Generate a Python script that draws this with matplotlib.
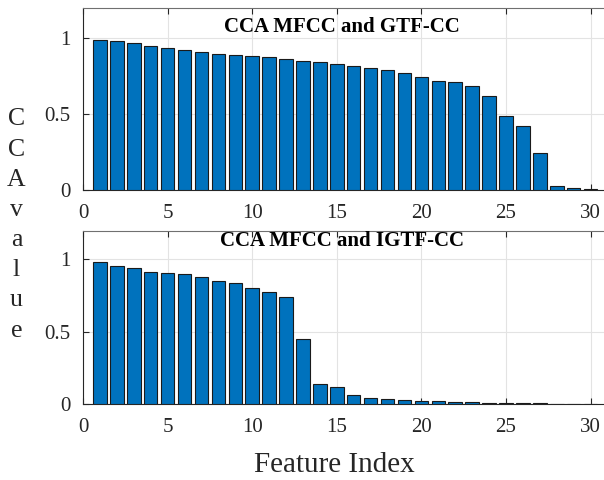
import matplotlib
matplotlib.use("Agg")
import matplotlib.pyplot as plt
import numpy as np

feature_index = list(range(1, 31))
cca_gtf = [0.990, 0.977, 0.964, 0.946, 0.935, 0.920, 0.905, 0.892, 0.887, 0.883,
           0.874, 0.863, 0.850, 0.839, 0.832, 0.819, 0.804, 0.789, 0.771, 0.745,
           0.719, 0.712, 0.686, 0.620, 0.486, 0.421, 0.243, 0.024, 0.013, 0.009]
cca_igtf = [0.984, 0.954, 0.938, 0.915, 0.903, 0.896, 0.876, 0.853, 0.839, 0.802,
            0.774, 0.737, 0.452, 0.141, 0.115, 0.062, 0.041, 0.032, 0.025, 0.023,
            0.021, 0.016, 0.014, 0.009, 0.007, 0.005, 0.004, 0.003, 0.002, 0.001]
titles = ["CCA MFCC and GTF-CC", "CCA MFCC and IGTF-CC"]
xticks = [0, 5, 10, 15, 20, 25, 30]
yticks = [0, 0.5, 1]
yticklabels = ["0", "0.5", "1"]

plt.rcParams['font.family'] = ['Liberation Serif', 'DejaVu Serif']

fig = plt.figure(figsize=(6.04, 4.8), dpi=100)
W, H = 604, 480
def rect(l, t, r, b):
    return [l / W, 1 - b / H, (r - l) / W, (b - t) / H]

ax1 = fig.add_axes(rect(83, 7.6, 607.5, 190))
ax2 = fig.add_axes(rect(83, 230.5, 607.5, 404))

title_y = [(190 - 27.5) / (190 - 7.6), (404 - 241) / (404 - 230.5)]

for ax, vals, title, ty in [(ax1, cca_gtf, titles[0], title_y[0]),
                            (ax2, cca_igtf, titles[1], title_y[1])]:
    ax.bar(feature_index, vals, width=0.8, color='#0072BD', edgecolor='#1a1a1a',
           linewidth=0.8, zorder=3)
    ax.set_xlim(0, 31)
    ax.set_ylim(0, 1.2)
    ax.set_xticks(xticks)
    ax.set_yticks(yticks)
    ax.set_yticklabels(yticklabels)
    ax.grid(True, color='#e3e3e3', linewidth=0.8, zorder=0)
    ax.set_axisbelow(True)
    ax.spines['right'].set_visible(False)
    ax.spines['top'].set_color('#707070')
    ax.spines['top'].set_linewidth(0.8)
    for s in ['left', 'bottom']:
        ax.spines[s].set_color('#262626')
        ax.spines[s].set_linewidth(0.8)
    ax.tick_params(direction='in', length=4, width=0.8, colors='#262626',
                   labelsize=15, top=True)
    ax.tick_params(axis='x', pad=10)
    ax.tick_params(axis='y', pad=9)
    ax.text(0.5 * 518 / 524.5, ty, title, transform=ax.transAxes, ha='center',
            va='center', fontsize=15, fontweight='bold', color='black')

fig.text(16.5 / W, 1 - 225 / H, "C\nC\nA\nv\na\nl\nu\ne", ha='center', va='center',
         fontsize=18.5, linespacing=1.48, color='#262626')
fig.text(334 / W, 1 - 465 / H, "Feature Index", ha='center', va='center',
         fontsize=21, color='#262626')

fig.savefig("out.png", dpi=100)
